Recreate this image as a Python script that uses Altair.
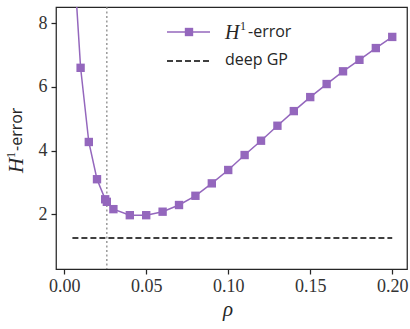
import altair as alt
import pandas as pd

rho = [0.005, 0.01, 0.015, 0.02, 0.025, 0.026, 0.03, 0.04, 0.05, 0.06, 0.07, 0.08, 0.09,
       0.10, 0.11, 0.12, 0.13, 0.14, 0.15, 0.16, 0.17, 0.18, 0.19, 0.20]
h1_error = [10.7, 6.60, 4.27, 3.10, 2.47, 2.39, 2.16, 1.97, 1.97, 2.08, 2.29, 2.58, 2.97,
            3.39, 3.86, 4.31, 4.78, 5.24, 5.68, 6.09, 6.49, 6.85, 7.22, 7.57]
deep_gp_x = [0.005, 0.2]
deep_gp_y = [1.25, 1.25]
rho_star = [0.026]
x_ticks = [0.0, 0.05, 0.10, 0.15, 0.20]
y_ticks = [2, 4, 6, 8]

PURPLE = "#9467bd"
INK = "#262626"
SERIF = "Liberation Serif"
SANS = "Open Sans"

df = pd.DataFrame({"rho": rho, "err": h1_error})
gp = pd.DataFrame({"rho": deep_gp_x, "err": deep_gp_y})
vline = pd.DataFrame({"rho": rho_star})

xs = alt.Scale(domain=[-0.005, 0.209], nice=False, zero=False)
ys = alt.Scale(domain=[0.28, 8.51], nice=False, zero=False)

xaxis = alt.Axis(values=x_ticks, format=".2f", title=None, grid=False, domain=False,
                 ticks=True, tickSize=5, tickWidth=1.25, tickColor=INK,
                 labelFont=SERIF, labelFontSize=18, labelColor="#333333", labelPadding=3)
yaxis = alt.Axis(values=y_ticks, format="d", title=None, grid=False, domain=False,
                 ticks=True, tickSize=5, tickWidth=1.25, tickColor=INK,
                 labelFont=SERIF, labelFontSize=18, labelColor="#333333", labelPadding=4)

line = alt.Chart(df).mark_line(color=PURPLE, strokeWidth=1.5, clip=True).encode(
    x=alt.X("rho:Q", scale=xs, axis=xaxis),
    y=alt.Y("err:Q", scale=ys, axis=yaxis),
)
pts = alt.Chart(df).mark_square(color=PURPLE, size=70, opacity=1, clip=True).encode(
    x=alt.X("rho:Q", scale=xs, axis=xaxis), y=alt.Y("err:Q", scale=ys, axis=yaxis)
)
gpline = alt.Chart(gp).mark_line(color="black", strokeWidth=1.5, strokeDash=[6, 3]).encode(
    x=alt.X("rho:Q", scale=xs, axis=xaxis), y=alt.Y("err:Q", scale=ys, axis=yaxis)
)
vrule = alt.Chart(vline).mark_rule(color="#808080", strokeWidth=1.2, strokeDash=[2, 2.5]).encode(
    x=alt.X("rho:Q", scale=xs, axis=xaxis)
)

one = pd.DataFrame({"a": [0]})

def txt(text, x, y, font, size, italic=False, angle=0, align="left"):
    kw = dict(text=text, font=font, fontSize=size, color=INK, align=align,
              baseline="middle", angle=angle)
    if italic:
        kw["fontStyle"] = "italic"
    return alt.Chart(one).mark_text(**kw).encode(x=alt.value(x), y=alt.value(y))

# legend
leg_line = alt.Chart(one).mark_rule(color=PURPLE, strokeWidth=1.5).encode(
    x=alt.value(111), x2=alt.value(154), y=alt.value(25))
leg_sq = alt.Chart(one).mark_square(color=PURPLE, size=70, opacity=1).encode(
    x=alt.value(133), y=alt.value(25))
leg_dash = alt.Chart(one).mark_rule(color="black", strokeWidth=1.5, strokeDash=[6, 3]).encode(
    x=alt.value(111), x2=alt.value(154), y=alt.value(54))
legend = [
    leg_line, leg_sq, leg_dash,
    txt("H", 169, 26, SERIF, 20, italic=True),
    txt("1", 184, 19, SERIF, 12),
    txt("-error", 192, 25, SANS, 16),
    txt("deep GP", 169, 53, SANS, 16),
]

# axis titles
titles = [
    txt("ρ", 172, 303, SERIF, 21, italic=True, align="center"),
    txt("H", -39, 166, SERIF, 21, italic=True, angle=270),
    txt("1", -45, 151, SERIF, 12, angle=270),
    txt("-error", -39, 144, SANS, 16, angle=270),
]

chart = alt.layer(vrule, gpline, line, pts, *legend, *titles).properties(
    width=351, height=262,
    background="white",
    autosize=alt.AutoSizeParams(type="none"),
    padding={"left": 56, "top": 7, "right": 3, "bottom": 60},
).configure_view(stroke=INK, strokeWidth=1.25)

chart.save("out.html", embed_options={"renderer": "svg", "actions": False})
